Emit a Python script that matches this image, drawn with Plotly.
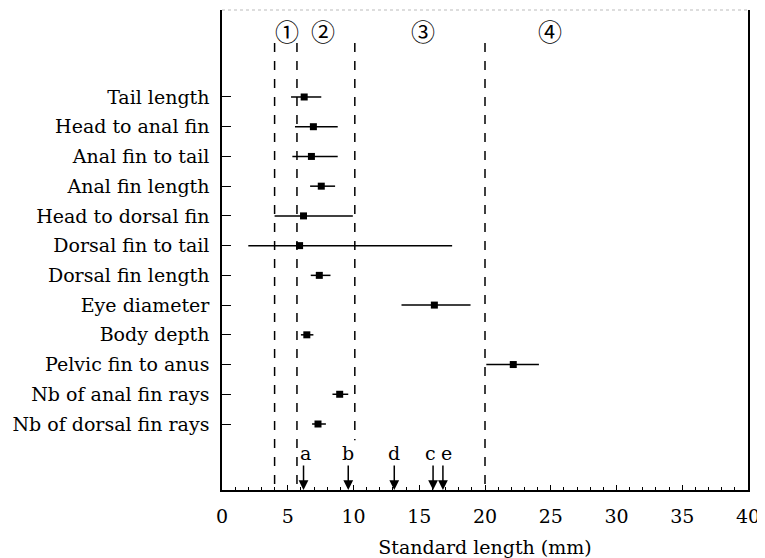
import plotly.graph_objects as go

categories = ["Tail length", "Head to anal fin", "Anal fin to tail", "Anal fin length",
              "Head to dorsal fin", "Dorsal fin to tail", "Dorsal fin length", "Eye diameter",
              "Body depth", "Pelvic fin to anus", "Nb of anal fin rays", "Nb of dorsal fin rays"]
means = [6.25, 6.95, 6.8, 7.55, 6.2, 5.9, 7.4, 16.15, 6.45, 22.15, 8.95, 7.3]
lows = [5.25, 5.55, 5.35, 6.7, 4.0, 2.0, 6.75, 13.65, 6.0, 20.1, 8.4, 6.85]
highs = [7.55, 8.8, 8.8, 8.6, 9.95, 17.5, 8.25, 18.9, 6.95, 24.1, 9.6, 7.9]

boundaries = [4.0, 5.7, 10.1, 20.0]
class_labels = ["①", "②", "③", "④"]
class_x = [4.95, 7.65, 15.25, 24.95]

arrow_labels = ["a", "b", "d", "c", "e"]
arrow_x = [6.2, 9.6, 13.1, 16.05, 16.8]
label_xshift = [2, 0, 0, -3, 4]

FONT = "DejaVu Serif"
FS = 19
ypos = list(range(1, len(categories) + 1))
Y_BOTTOM = 14.22
Y_TOP = -1.926

fig = go.Figure()
fig.add_trace(go.Scatter(
    x=means, y=ypos, mode="markers",
    marker=dict(symbol="square", size=7, color="black"),
    error_x=dict(type="data", symmetric=False,
                 array=[h - m for h, m in zip(highs, means)],
                 arrayminus=[m - l for m, l in zip(means, lows)],
                 thickness=1.5, width=0, color="black"),
    showlegend=False, hoverinfo="skip"))

# dashed boundaries: (top, bottom) in y data coords
extents = [(-0.82, Y_BOTTOM), (-0.82, Y_BOTTOM), (-0.82, 12.55), (-0.82, Y_BOTTOM)]
for bx, (yt, yb) in zip(boundaries, extents):
    fig.add_shape(type="line", x0=bx, x1=bx, y0=yt, y1=yb, xref="x", yref="y",
                  line=dict(color="black", width=1.5, dash="dash"))

for lab, cx in zip(class_labels, class_x):
    fig.add_annotation(x=cx, y=-1.25, text=lab, showarrow=False, xref="x", yref="y",
                       font=dict(family="Noto Sans CJK JP", size=24, color="black"))

for lab, ax_, xs in zip(arrow_labels, arrow_x, label_xshift):
    fig.add_annotation(x=ax_, y=Y_BOTTOM, text="", showarrow=True, ax=0, ay=-26,
                       arrowhead=2, arrowsize=1.3, arrowwidth=1.5, arrowcolor="black",
                       xref="x", yref="y")
    fig.add_annotation(x=ax_, y=Y_BOTTOM, text=lab, showarrow=False, xref="x", yref="y",
                       yshift=37, xshift=xs,
                       font=dict(family=FONT, size=FS, color="black"))

# faint top border
fig.add_shape(type="line", x0=0, x1=1, y0=1, y1=1, xref="paper", yref="paper",
              line=dict(color="#bbbbbb", width=1, dash="dot"))

fig.update_layout(
    width=765, height=558,
    margin=dict(l=214, r=25, t=2, b=76),
    paper_bgcolor="white", plot_bgcolor="white",
    font=dict(family=FONT, size=FS, color="black"),
    xaxis=dict(range=[0, 40], tickvals=[0, 5, 10, 15, 20, 25, 30, 35, 40],
               ticks="inside", ticklen=5, tickwidth=1, tickcolor="black",
               minor=dict(dtick=1, ticks="inside", ticklen=3, tickcolor="black"),
               showline=True, linecolor="black", linewidth=1.5,
               showgrid=False, zeroline=False, ticklabelstandoff=8,
               tickfont=dict(family=FONT, size=FS),
               title=dict(text="Standard length (mm)", font=dict(family=FONT, size=FS), standoff=15)),
    yaxis=dict(range=[Y_BOTTOM, Y_TOP], tickvals=ypos, ticktext=categories,
               ticks="inside", ticklen=9, tickwidth=1, tickcolor="black",
               showline=True, linecolor="black", linewidth=1.5, mirror=True,
               showgrid=False, zeroline=False, ticklabelstandoff=7,
               tickfont=dict(family=FONT, size=FS)),
)

fig.write_html("out.html")
